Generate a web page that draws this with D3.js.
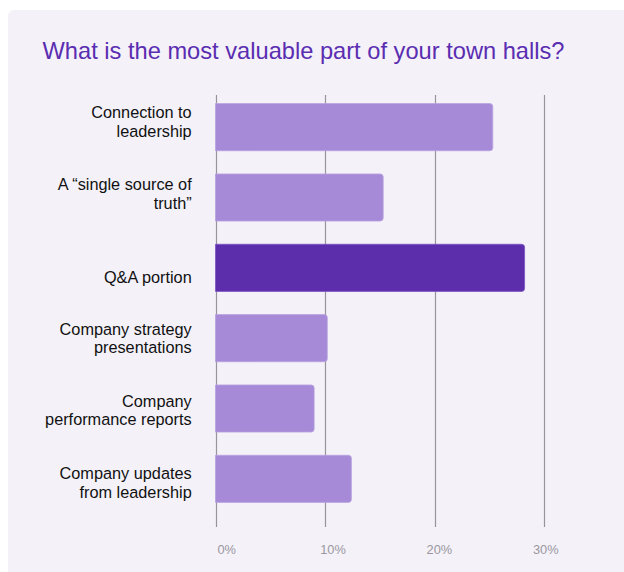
<!DOCTYPE html>
<html>
<head>
<meta charset="utf-8">
<script src="https://cdn.jsdelivr.net/npm/d3@7"></script>
<style>
  html, body { margin: 0; padding: 0; background: #ffffff; }
  svg { display: block; }
</style>
</head>
<body>
<svg id="chart" width="624" height="572"></svg>
<script>
// Survey answers, top to bottom
const categories = [
  ["Connection to", "leadership"],
  ["A \u201csingle source of", "truth\u201d"],
  ["Q&A portion"],
  ["Company strategy", "presentations"],
  ["Company", "performance reports"],
  ["Company updates", "from leadership"]
];
const shares = [25.3, 15.3, 28.2, 10.2, 9.0, 12.4];
const highlighted = [false, false, true, false, false, false];
const tickValues = [0, 10, 20, 30];
const tickLabels = ["0%", "10%", "20%", "30%"];
const title = "What is the most valuable part of your town halls?";

const W = 624, H = 572;
const svg = d3.select("#chart");
const font = "'Liberation Sans', Arial, Helvetica, sans-serif";

// Card background
svg.append("rect")
  .attr("x", 8).attr("y", 10)
  .attr("width", W).attr("height", H)
  .attr("rx", 6)
  .attr("fill", "#f4f1f9");

// Title
svg.append("text")
  .attr("x", 42.5).attr("y", 58.5)
  .attr("font-family", font)
  .attr("font-size", 24)
  .attr("fill", "#5a2db1")
  .attr("textLength", 522)
  .attr("lengthAdjust", "spacingAndGlyphs")
  .text(title);

const x = d3.scaleLinear().domain([0, 30]).range([215.5, 544.3]);
// Tick labels sit slightly right of their gridlines
const xLabel = d3.scaleLinear().domain([0, 30]).range([226.7, 545.8]);
const y = d3.scaleBand()
  .domain(d3.range(categories.length))
  .range([92, 514])
  .paddingInner(0.33)
  .paddingOuter(0.165);
// Vertical anchors of the category label blocks
const yLabel = d3.scalePoint()
  .domain(d3.range(categories.length))
  .range([127.3, 488.3]);

// Vertical gridlines
svg.append("g")
  .selectAll("line")
  .data(tickValues)
  .join("line")
  .attr("x1", d => Math.round(x(d)) + 0.5)
  .attr("x2", d => Math.round(x(d)) + 0.5)
  .attr("y1", 95).attr("y2", 527)
  .attr("stroke", "#97959b")
  .attr("stroke-width", 1.2);

// Tick labels
svg.append("g")
  .selectAll("text")
  .data(tickValues)
  .join("text")
  .attr("x", d => xLabel(d))
  .attr("y", 554)
  .attr("text-anchor", "middle")
  .attr("font-family", font)
  .attr("font-size", 12.8)
  .attr("fill", "#9a989e")
  .text((d, i) => tickLabels[i]);

// Bars: square at the baseline, rounded at the value end
const r = 3;
function barPath(v, i) {
  const x0 = x(0), x1 = x(v), y0 = y(i), h = y.bandwidth();
  return `M${x0},${y0}H${x1 - r}Q${x1},${y0} ${x1},${y0 + r}` +
         `V${y0 + h - r}Q${x1},${y0 + h} ${x1 - r},${y0 + h}H${x0}Z`;
}
svg.append("g")
  .selectAll("path")
  .data(shares)
  .join("path")
  .attr("d", (d, i) => barPath(d, i))
  .attr("fill", (d, i) => highlighted[i] ? "#5d2eac" : "#a68ad7")
  .attr("stroke", (d, i) => highlighted[i] ? "#7b55c0" : "#b9a3e0")
  .attr("stroke-width", 0.8);

// Category labels
const labels = svg.append("g")
  .selectAll("text")
  .data(categories)
  .join("text")
  .attr("font-family", font)
  .attr("font-size", 16.3)
  .attr("fill", "#111111")
  .attr("text-anchor", "end");
labels.each(function(lines, i) {
  const g = yLabel(i);
  const lh = 18.7;
  const first = lines.length > 1 ? g - lh / 2 : g + 11;
  d3.select(this).selectAll("tspan")
    .data(lines)
    .join("tspan")
    .attr("x", 191.7)
    .attr("y", (d, j) => first + j * lh)
    .text(d => d);
});
</script>
</body>
</html>
